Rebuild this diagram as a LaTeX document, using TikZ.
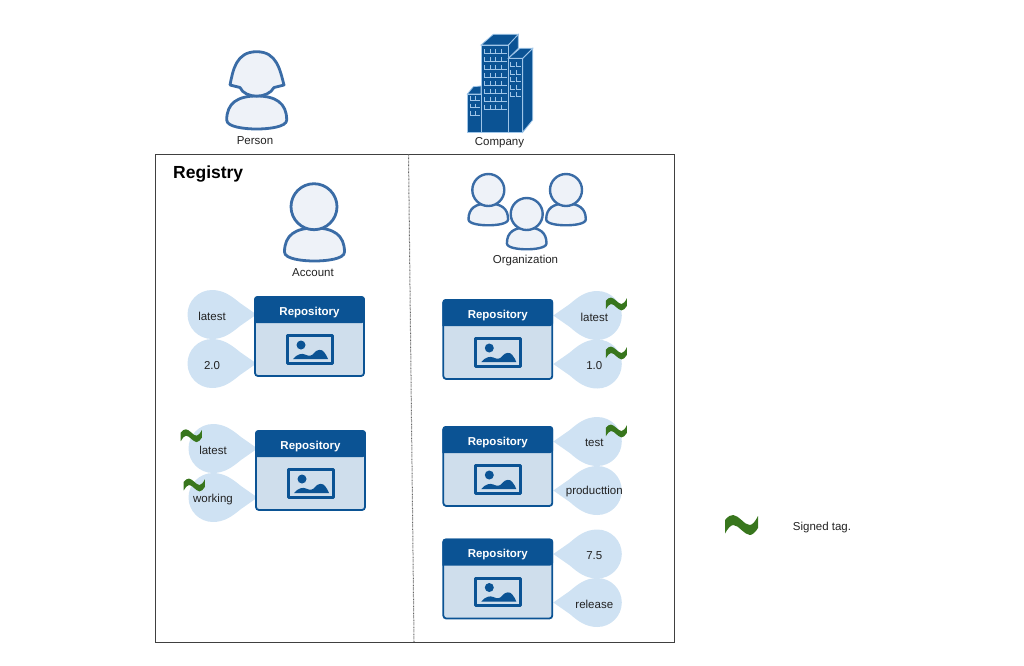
\documentclass[tikz,border=0pt]{standalone}
\usepackage{fontspec}
\setmainfont{Liberation Sans}

\definecolor{repoblue}{HTML}{0B5394}
\definecolor{repopale}{HTML}{CFDEEC}
\definecolor{dropblue}{HTML}{CFE2F3}
\definecolor{userline}{HTML}{3A6CA6}
\definecolor{userfill}{HTML}{EEF2F8}
\definecolor{winlight}{HTML}{9FC5E8}
\definecolor{signgreen}{HTML}{38761D}
\definecolor{inktext}{HTML}{222222}

\tikzset{
  lbl/.style={font=\fontsize{11.5}{13}\selectfont,text=inktext,inner sep=0pt,yshift=-1.5pt},
  usershape/.style={draw=userline,fill=userfill,line join=round},
  bodyshape/.pic={
    \path[usershape,pic actions] (-30,24) .. controls (-30,7) and (-19,0) .. (0,0)
      .. controls (19,0) and (30,7) .. (30,24)
      .. controls (30,31) and (12,33) .. (0,33)
      .. controls (-12,33) and (-30,31) .. (-30,24) -- cycle;
  },
  dropshape/.style={fill=dropblue,draw=none},
  pics/dropright/.style={code={
    \path[dropshape] (44.5,0) -- (28,-11.5) .. controls (20,-18) and (12,-24.5) .. (0,-24.5)
      arc (270:90:24.5) .. controls (12,24.5) and (20,18) .. (28,11.5) -- cycle;
    \node[lbl] (-text) at (0,.5) {#1};
  }},
  pics/dropleft/.style={code={
    \path[dropshape] (-44,0) -- (-27.5,-11.5) .. controls (-20,-18) and (-12,-24.5) .. (0,-24.5)
      arc (-90:90:24.5) .. controls (-12,24.5) and (-20,18) .. (-27.5,11.5) -- cycle;
    \node[lbl] (-text) at (-3,0) {#1};
  }},
  pics/repository/.style={code={
    \draw[draw=repoblue,fill=repopale,line width=1.8pt,rounded corners=3] (0,0) rectangle (109,79);
    \fill[repoblue,rounded corners=3] (-.9,26) -- (-.9,-.9) -- (109.9,-.9) -- (109.9,26) [sharp corners] -- cycle;
    \node[lbl,text=white,font=\fontsize{11.5}{13}\selectfont\bfseries] (-title) at (54.5,14) {Repository};
    \draw[repoblue,line width=3pt,line join=round] (32.5,38.5) rectangle (77.5,66);
    \fill[repoblue] (46,48) circle [radius=4.5];
    \fill[repoblue] (38,62) .. controls (42,57) and (47,56) .. (50,57.5)
      .. controls (54,59.5) and (57,59) .. (59,56) .. controls (62,52) and (67,52) .. (69,55)
      .. controls (71,57) and (72,60) .. (73,62) -- cycle;
  }},
  pics/signmark/.style={code={
    \fill[signgreen] (-16.5,-5) .. controls (-13,-9) and (-11,-10) .. (-8.3,-10)
      .. controls (-5,-10) and (-3,-7) .. (0,-5)
      .. controls (3,-2.5) and (5,0) .. (8.3,0)
      .. controls (11,0) and (14,-4) .. (16.5,-9) -- (16.5,3)
      .. controls (14,7) and (11,10) .. (8.3,10)
      .. controls (5,10) and (3,7) .. (0,5)
      .. controls (-3,2.5) and (-5,0) .. (-8.3,0)
      .. controls (-11,0) and (-14,4) .. (-16.5,8.5) -- cycle;
  }},
}

\begin{document}
\begin{tikzpicture}[x=1pt,y=-1pt]
 \useasboundingbox (0,0) rectangle (1024,665);

 % person on top
 \pic[line width=2.8pt] at (256.7,96) {bodyshape};
 \path[usershape,line width=2.8pt] (230,85) .. controls (233,70) and (236,51.7) .. (256.7,51.7)
   .. controls (277,51.7) and (280,70) .. (284,85) -- (274,87.5)
   .. controls (268,99) and (245,99) .. (240,87.5) -- cycle;
 \node[lbl] (person) at (255,139.5) {Person};

 % company
 \begin{scope}[draw=winlight,line width=.8pt]
 \filldraw[fill=repoblue] (508.3,45) -- (518.3,34.3) -- (518.3,48.3) -- (508.3,58.3) -- cycle;
 \filldraw[fill=repoblue] (481,45) -- (493.3,34.3) -- (518.3,34.3) -- (508.3,45) -- cycle;
 \filldraw[fill=repoblue] (481,45) rectangle (508.3,132.3);
 \filldraw[fill=repoblue] (522.7,58.3) -- (532.7,48.3) -- (532.7,120) -- (522.7,132.3) -- cycle;
 \filldraw[fill=repoblue] (508.3,58.3) -- (520,48.3) -- (532.7,48.3) -- (522.7,58.3) -- cycle;
 \filldraw[fill=repoblue] (508.3,58.3) rectangle (522.7,132.3);
 \filldraw[fill=repoblue] (467.3,94) -- (473.3,86.7) -- (481,86) -- (481,94) -- cycle;
 \filldraw[fill=repoblue] (467.3,94) rectangle (481,132.3);
 \begin{scope}[line width=.6pt]
 \foreach \wy in {49,57,65,73,81,89,97,105}
   \foreach \wx in {484,490,495.5,501}
     \draw (\wx,\wy) -- ++(0,4) -- ++(5.5,0);
 \foreach \wy in {62,70,77,85,92}
   \foreach \wx in {510.5,516}
     \draw (\wx,\wy) -- ++(0,4) -- ++(4.5,0);
 \foreach \wy in {96,103.5,111}
   \foreach \wx in {470,475.5}
     \draw (\wx,\wy) -- ++(0,4) -- ++(4.5,0);
 \end{scope}
 \end{scope}
 \node[lbl] (company) at (499.5,141.5) {Company};

 % registry frame
 \draw[draw=black!75,line width=.9pt] (155.5,154) rectangle (674,642);
 \draw[draw=black!60,line width=1pt,dash pattern=on .7pt off .7pt] (408.5,154) -- (414,642);
 \node[lbl,anchor=west,font=\fontsize{17.5}{20}\selectfont\bfseries,text=black] (registry) at (173,172.5) {Registry};

 % account
 \pic[line width=2.8pt] at (314.5,228) {bodyshape};
 \draw[usershape,line width=2.8pt] (314,206.7) circle [radius=23];
 \node[lbl] (account) at (313,271) {Account};

 % organization
 \foreach \ux/\uy in {488.3/190,566/190,526.7/214}{
   \pic[line width=2.4pt,scale=.66] at (\ux,\uy+13.5) {bodyshape};
   \draw[usershape,line width=2.4pt] (\ux,\uy) circle [radius=16];
 }
 \node[lbl] (organization) at (525.5,259.5) {Organization};

 % account repositories
 \pic (dropa) at (212,314.5) {dropright={latest}};
 \pic (dropb) at (212,363.5) {dropright={2.0}};
 \pic (repoa) at (255,297) {repository};
 \pic (dropc) at (213,448.5) {dropright={latest}};
 \pic (dropd) at (213,497.5) {dropright={working}};
 \pic (repob) at (256,431) {repository};
 \pic[scale=.64] at (191.3,435.7) {signmark};
 \pic[scale=.64] at (194.3,485) {signmark};

 % organization repositories
 \pic (drope) at (597.3,315.5) {dropleft={latest}};
 \pic (dropf) at (597.3,364) {dropleft={1.0}};
 \pic (repoc) at (443.3,300) {repository};
 \pic (dropg) at (597.3,441.5) {dropleft={test}};
 \pic (droph) at (597.3,490.5) {dropleft={producttion}};
 \pic (repod) at (443.3,427) {repository};
 \pic (dropi) at (597.3,554) {dropleft={7.5}};
 \pic (dropj) at (597.3,602.5) {dropleft={release}};
 \pic (repoe) at (443.3,539.5) {repository};
 \pic[scale=.64] at (616.3,304) {signmark};
 \pic[scale=.64] at (616.3,353) {signmark};
 \pic[scale=.64] at (616.3,431) {signmark};

 % legend
 \pic at (741.5,525) {signmark};
 \node[lbl] (legend) at (822,526) {Signed tag.};
\end{tikzpicture}
\end{document}
